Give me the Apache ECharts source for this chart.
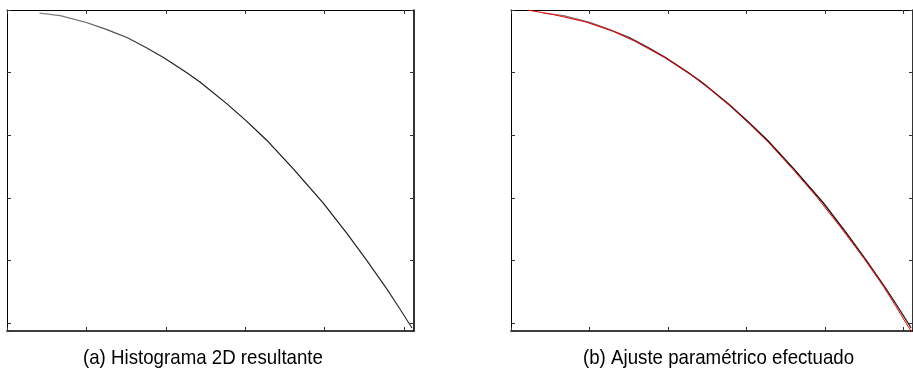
<!DOCTYPE html>
<html>
<head>
<meta charset="utf-8">
<script src="https://cdn.jsdelivr.net/npm/echarts@6.0.0/dist/echarts.min.js"></script>
<style>
  html, body { margin: 0; padding: 0; background: #fff; }
  #main { width: 913px; height: 376px; }
</style>
</head>
<body>
<div id="main"></div>
<script>
// histograma 2D (unidades de los ejes)
const histX = [0.41, 0.67, 1.00, 1.25, 1.51, 1.75, 1.97, 2.26, 2.43, 2.77, 3.02, 3.27, 3.60, 3.98, 4.28, 4.53, 4.78, 4.95, 5.10]
const histY = [0.05, 0.09, 0.20, 0.31, 0.44, 0.60, 0.76, 1.00, 1.15, 1.50, 1.78, 2.08, 2.53, 3.08, 3.57, 4.00, 4.45, 4.78, 5.08]
// ajuste parametrico (curva roja)
const fitX = [0.21, 0.53, 0.95, 1.30, 1.58, 1.96, 2.30, 2.54, 2.80, 3.04, 3.30, 3.59, 3.90, 4.22, 4.50, 4.75, 4.91, 5.05, 5.13]
const fitY = [0.00, 0.07, 0.19, 0.34, 0.50, 0.76, 1.04, 1.27, 1.54, 1.82, 2.14, 2.54, 2.99, 3.50, 3.97, 4.42, 4.74, 5.03, 5.18]
const captions = ['(a) Histograma 2D resultante', '(b) Ajuste paramétrico efectuado']

const toPairs = (xs, ys) => xs.map((x, i) => [x, ys[i]])

function axis (kind, grid, position) {
  // bordes inferior/derecho algo mas gruesos, como en la figura
  const thick = position === 'bottom' || position === 'right'
  return {
    type: 'value',
    gridIndex: grid,
    position: position,
    min: 0,
    max: kind === 'x' ? 5.125 : 5.128,
    interval: 1,
    inverse: kind === 'y',
    axisLine: { show: true, onZero: false, lineStyle: { color: '#000', width: thick ? 1.6 : 1 } },
    axisTick: { show: true, inside: true, length: 4, lineStyle: { color: '#333' } },
    axisLabel: { show: false },
    splitLine: { show: false }
  }
}

const histColor = {
  type: 'linear', x: 0, y: 0, x2: 1, y2: 0,
  colorStops: [
    { offset: 0, color: '#888' },
    { offset: 0.35, color: '#222' },
    { offset: 0.7, color: '#111' },
    { offset: 1, color: '#333' }
  ]
}

function caption (text, x) {
  return {
    type: 'text', x: x, y: 358.5, scaleX: 0.89,
    style: { text: text, fill: '#000', align: 'left', verticalAlign: 'middle', font: '21px "Liberation Sans", Arial, sans-serif' }
  }
}

let chart = echarts.init(document.getElementById('main'))
let option = {
  backgroundColor: '#fff',
  animation: false,
  grid: [
    { left: 7, top: 10, width: 407, height: 321 },
    { left: 511, top: 10, width: 407, height: 321 }
  ],
  xAxis: [axis('x', 0, 'bottom'), axis('x', 0, 'top'), axis('x', 1, 'bottom'), axis('x', 1, 'top')],
  yAxis: [axis('y', 0, 'left'), axis('y', 0, 'right'), axis('y', 1, 'left'), axis('y', 1, 'right')],
  series: [
    {
      type: 'line', xAxisIndex: 0, yAxisIndex: 0,
      data: toPairs(histX, histY),
      showSymbol: false,
      lineStyle: { color: histColor, width: 1.2 }
    },
    {
      type: 'line', xAxisIndex: 2, yAxisIndex: 2,
      data: toPairs(histX, histY),
      showSymbol: false,
      lineStyle: { color: histColor, width: 1.4 }
    },
    {
      type: 'line', xAxisIndex: 2, yAxisIndex: 2,
      data: toPairs(fitX, fitY),
      showSymbol: false,
      lineStyle: { color: '#ff0000', width: 1 }
    }
  ],
  graphic: [caption(captions[0], 83), caption(captions[1], 583)]
}
chart.setOption(option)
</script>
</body>
</html>
